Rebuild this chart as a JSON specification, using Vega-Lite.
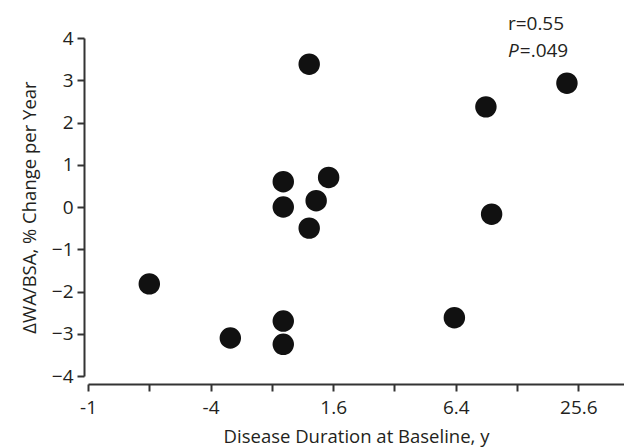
{
  "$schema": "https://vega.github.io/schema/vega-lite/v6.json",
  "width": 536,
  "height": 338,
  "autosize": "none",
  "padding": {"left": 88, "top": 38, "right": 0, "bottom": 72},
  "background": "white",
  "config": {
    "view": {"stroke": null},
    "font": "Open Sans",
    "axis": {
      "domainColor": "#333333",
      "domainWidth": 2,
      "tickColor": "#333333",
      "tickWidth": 2,
      "tickSize": 7,
      "grid": false,
      "labelColor": "#231f20",
      "titleColor": "#231f20",
      "labelFont": "Open Sans",
      "titleFont": "Open Sans",
      "labelFontSize": 19,
      "titleFontSize": 18.5,
      "titleFontWeight": "normal"
    }
  },
  "layer": [
    {
      "data": {
        "values": [
          {"duration": 0.2, "change": -1.82},
          {"duration": 0.5, "change": -3.1},
          {"duration": 0.91, "change": -2.7},
          {"duration": 0.91, "change": -3.25},
          {"duration": 0.91, "change": 0.6},
          {"duration": 0.91, "change": 0.0},
          {"duration": 1.22, "change": -0.5},
          {"duration": 1.22, "change": 3.38},
          {"duration": 1.32, "change": 0.15},
          {"duration": 1.52, "change": 0.7},
          {"duration": 6.3, "change": -2.62},
          {"duration": 9.0, "change": 2.37},
          {"duration": 9.6, "change": -0.17},
          {"duration": 22.5, "change": 2.93}
        ]
      },
      "mark": {"type": "point", "filled": true, "shape": "circle", "size": 460, "color": "#111111", "opacity": 1},
      "encoding": {
        "x": {
          "field": "duration",
          "type": "quantitative",
          "scale": {"type": "log", "base": 2, "domain": [0.1, 42.9], "nice": false, "zero": false},
          "axis": {
            "title": "Disease Duration at Baseline, y",
            "values": [0.1, 0.2, 0.4, 0.8, 1.6, 3.2, 6.4, 12.8, 25.6],
            "labelExpr": "abs(datum.value-0.1)<0.001 ? '-1' : abs(datum.value-0.4)<0.001 ? '-4' : abs(datum.value-1.6)<0.001 ? '1.6' : abs(datum.value-6.4)<0.001 ? '6.4' : abs(datum.value-25.6)<0.001 ? '25.6' : ''",
            "labelFlush": false,
            "labelOverlap": false,
            "offset": 8,
            "labelPadding": 7,
            "titlePadding": 10
          }
        },
        "y": {
          "field": "change",
          "type": "quantitative",
          "scale": {"domain": [-4, 4], "nice": false},
          "axis": {
            "title": "ΔWA/BSA, % Change per Year",
            "values": [-4, -3, -2, -1, 0, 1, 2, 3, 4],
            "offset": 4,
            "labelPadding": 4,
            "titlePadding": 12
          }
        }
      }
    },
    {
      "data": {"values": [{"label": "r=0.55"}]},
      "mark": {"type": "text", "align": "left", "baseline": "alphabetic", "fontSize": 19, "fill": "#231f20", "font": "Open Sans"},
      "encoding": {
        "x": {"datum": 11.54, "type": "quantitative"},
        "y": {"datum": 4.19, "type": "quantitative"},
        "text": {"field": "label"}
      }
    },
    {
      "data": {"values": [{"label": "P"}]},
      "mark": {"type": "text", "align": "left", "baseline": "alphabetic", "fontSize": 19, "fontStyle": "italic", "fill": "#231f20", "font": "Open Sans"},
      "encoding": {
        "x": {"datum": 11.54, "type": "quantitative"},
        "y": {"datum": 3.55, "type": "quantitative"},
        "text": {"field": "label"}
      }
    },
    {
      "data": {"values": [{"label": "=.049"}]},
      "mark": {"type": "text", "align": "left", "baseline": "alphabetic", "fontSize": 19, "fill": "#231f20", "font": "Open Sans"},
      "encoding": {
        "x": {"datum": 13.2, "type": "quantitative"},
        "y": {"datum": 3.55, "type": "quantitative"},
        "text": {"field": "label"}
      }
    }
  ]
}
